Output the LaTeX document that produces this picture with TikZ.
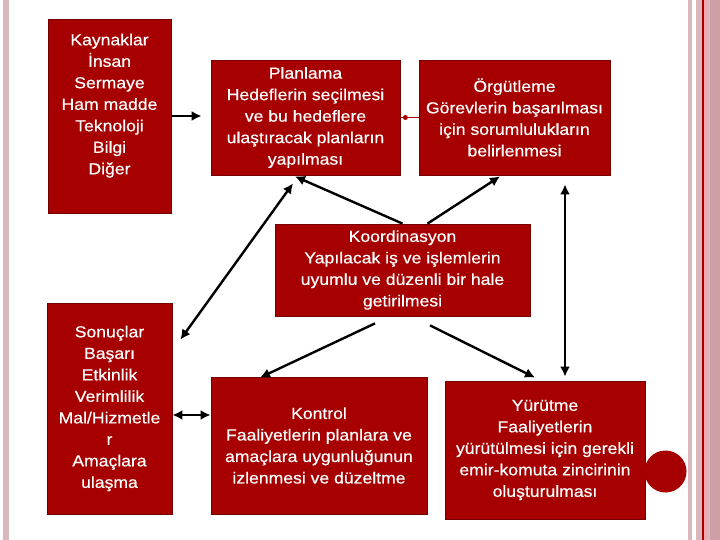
\documentclass[tikz,border=0pt]{standalone}
\usepackage{fontspec}
\setmainfont{Liberation Sans}[FakeStretch=1.1,FakeBold=0.4]
\usepackage{tikz}
\usetikzlibrary{arrows.meta}
\usepackage{xcolor}

\definecolor{kutukirmizi}{RGB}{166,0,0}
\definecolor{kenarkirmizi}{RGB}{118,0,0}
\definecolor{seritpembe}{RGB}{218,184,188}
\definecolor{seritkoyu}{RGB}{205,160,166}
\definecolor{seritacik}{RGB}{238,168,176}

\begin{document}
\begin{tikzpicture}[x=1pt, y=-1pt,
  kutu/.style={draw=kenarkirmizi, line width=0.8pt, fill=kutukirmizi, text=white,
    align=center, inner sep=2pt, font=\fontsize{16}{21.5}\selectfont},
  ok/.style={line width=2.4pt, ->, >={Latex[length=10pt,width=10pt]}},
  ciftok/.style={ok, <->}]

\useasboundingbox (0,0) rectangle (720,540);

% Kenar seritleri
\fill[seritpembe] (3,0) rectangle (9,540);
\fill[seritpembe] (688,0) rectangle (692,540);
\fill[seritpembe] (696,0) rectangle (702,540);
\fill[kutukirmizi] (702,0) rectangle (703.5,540);
\fill[seritacik] (703.5,0) rectangle (707,540);
\fill[seritpembe] (707,0) rectangle (710,540);
\fill[seritkoyu] (710,0) rectangle (720,540);

% Kutular
\node[kutu, minimum width=123pt, minimum height=194pt, text depth=24pt] (kaynak) at (109.5,116)
  {Kaynaklar\\İnsan\\Sermaye\\Ham madde\\Teknoloji\\Bilgi\\Diğer};
\node[kutu, minimum width=189pt, minimum height=115pt] (plan) at (305.5,117.5)
  {Planlama\\Hedeflerin seçilmesi\\ve bu hedeflere\\ulaştıracak planların\\yapılması};
\node[kutu, minimum width=191pt, minimum height=115pt] (orgut) at (514.5,117.5)
  {Örgütleme\\Görevlerin başarılması\\için sorumlulukların\\belirlenmesi};
\node[kutu, minimum width=255pt, minimum height=92pt] (koord) at (402.5,270)
  {Koordinasyon\\Yapılacak iş ve işlemlerin\\uyumlu ve düzenli bir hale\\getirilmesi};
\node[kutu, minimum width=125pt, minimum height=211pt] (sonuc) at (109.5,408.5)
  {Sonuçlar\\Başarı\\Etkinlik\\Verimlilik\\Mal/Hizmetle\\r\\Amaçlara\\ulaşma};
\node[kutu, minimum width=216pt, minimum height=137pt] (kontrol) at (319,445.5)
  {Kontrol\\Faaliyetlerin planlara ve\\amaçlara uygunluğunun\\izlenmesi ve düzeltme};
\node[kutu, minimum width=200pt, minimum height=138pt] (yurut) at (545,450)
  {Yürütme\\Faaliyetlerin\\yürütülmesi için gerekli\\emir-komuta zincirinin\\oluşturulması};

% Sag alttaki daire
\fill[kutukirmizi] (665.5,471.5) circle (21pt);

% Baglantilar
\draw[ok, shorten >=9pt] (kaynak.east) -- (kaynak.east -| plan.west);
\draw[kutukirmizi, line width=1.5pt] (plan.east) -- (orgut.west);
\fill[kutukirmizi] ([xshift=5pt]plan.east) circle (2.5pt);
\draw[ok] (koord.north) -- ([shift={(-10.5pt,-1pt)}]plan.south);
\draw[ok] ([xshift=25pt]koord.north) -- ([shift={(-14.5pt,-1pt)}]orgut.south);
\draw[ciftok] ([shift={(8pt,-37pt)}]sonuc.north east) -- ([shift={(-12.5pt,-8pt)}]plan.south);
\draw[ciftok] ([shift={(50.5pt,-9pt)}]orgut.south) -- ([shift={(20pt,4pt)}]yurut.north);
\draw[ok] ([shift={(-27.5pt,-7pt)}]koord.south) -- ([shift={(-59pt,-1pt)}]kontrol.north);
\draw[ok] ([shift={(27.5pt,-9pt)}]koord.south) -- ([shift={(-10pt,3pt)}]yurut.north);
\draw[ciftok] ([yshift=-6.5pt]sonuc.east) -- ([yshift=-6.5pt]sonuc.east -| kontrol.west);

\end{tikzpicture}
\end{document}
